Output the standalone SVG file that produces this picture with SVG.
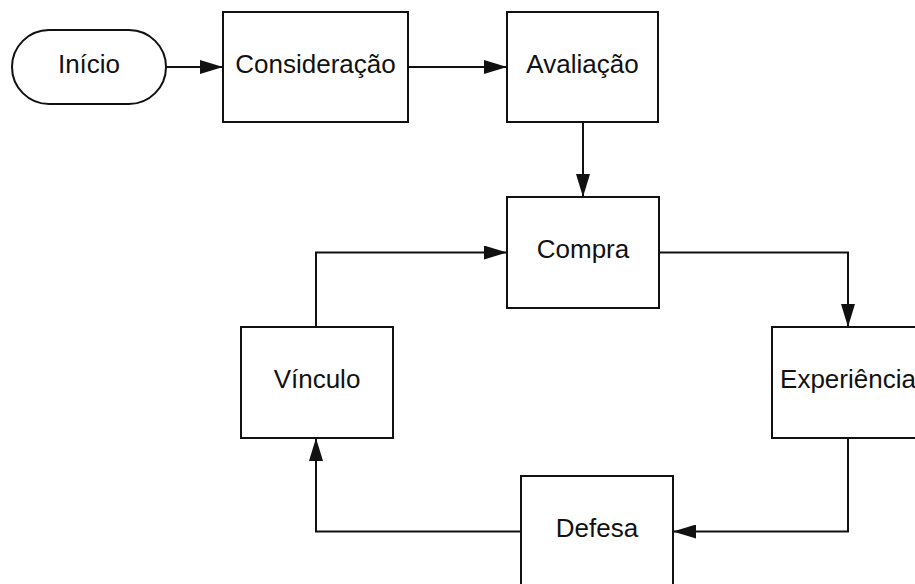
<svg xmlns="http://www.w3.org/2000/svg" width="915" height="584" viewBox="0 0 915 584">
<style>
.box{fill:#fff;stroke:#111;stroke-width:2}
.lbl{font-family:"Liberation Sans",Arial,sans-serif;font-size:26px;fill:#111;text-anchor:middle}
.con{fill:none;stroke:#111;stroke-width:2;marker-end:url(#arr)}
</style>
<defs>
<marker id="arr" markerUnits="userSpaceOnUse" markerWidth="24" markerHeight="14" refX="23" refY="7" orient="auto">
<path d="M0,0 L23,7 L0,14 z" fill="#111"/>
</marker>
</defs>
<rect width="915" height="584" fill="#fff"/>
<g id="connectors">
<path class="con" d="M166,67 H223"/>
<path class="con" d="M408,67 H507"/>
<path class="con" d="M583,122 V197"/>
<path class="con" d="M659,252.5 H848 V327"/>
<path class="con" d="M848,438 V531.5 H673"/>
<path class="con" d="M521,531.5 H316 V438"/>
<path class="con" d="M316,327 V252.5 H507"/>
</g>
<g id="inicio"><rect class="box" x="12" y="30" width="154" height="74" rx="37"/><text class="lbl" x="89" y="73">Início</text></g>
<g id="consideracao"><rect class="box" x="223" y="12" width="185" height="110"/><text class="lbl" x="315.5" y="73">Consideração</text></g>
<g id="avaliacao"><rect class="box" x="507" y="12" width="151" height="110"/><text class="lbl" x="582.5" y="73">Avaliação</text></g>
<g id="compra"><rect class="box" x="507" y="197" width="152" height="111"/><text class="lbl" x="583" y="258">Compra</text></g>
<g id="experiencia"><rect class="box" x="772" y="327" width="152" height="111"/><text class="lbl" x="848" y="388">Experiência</text></g>
<g id="vinculo"><rect class="box" x="241" y="327" width="152" height="111"/><text class="lbl" x="317" y="388">Vínculo</text></g>
<g id="defesa"><rect class="box" x="521" y="476" width="152" height="111"/><text class="lbl" x="597" y="537">Defesa</text></g>
</svg>
